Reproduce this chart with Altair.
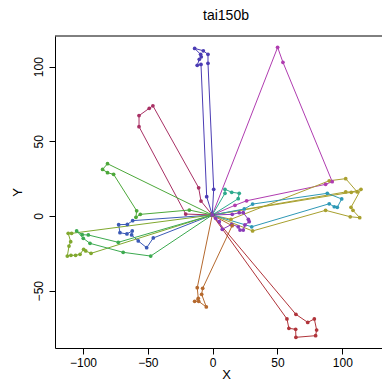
import altair as alt
import pandas as pd

depot_x, depot_y = -0.3, 0.7

route_names = ["r01", "r02", "r03", "r04", "r05", "r06", "r07", "r08", "r09", "r10", "r11", "r12", "r13", "r14"]
route_colors = ["#4B3CB4", "#B03CB0", "#A83064", "#4CA83A", "#3B5AB6", "#80A82E", "#3CAA50",
                "#B5692E", "#B0343A", "#AAA030", "#A8A02E", "#2E98B6", "#2EAA8E", "#8A3AB8"]

r01_x = [0.8, -3.6, -3.6, -7.2, -13.9, -9.3, -8.8, -10.3, -11.9, -9.0, -4.6]
r01_y = [17.9, 102.2, 108.2, 110.6, 112.2, 108.2, 106.6, 104.9, 100.9, 101.5, 12.9]
r02_x = [50.1, 54.2, 92.2, 87.1, 26.2, 17.2]
r02_y = [112.9, 102.9, 23.0, 21.2, 10.2, 7.2]
r03_x = [-20.8, -56.8, -56.8, -48.9, -46.1, -10.8, -9.0]
r03_y = [1.3, 59.8, 67.2, 72.1, 73.8, 18.9, 10.0]
r04_x = [-81.1, -84.9, -81.1, -76.4, -58.6, -59.2, -55.8, -18.0]
r04_y = [35.0, 31.2, 29.0, 27.9, 3.5, -0.9, 1.1, 4.0]
r05_x = [-61.7, -65.8, -72.5, -71.5, -66.1, -62.0, -62.5, -57.4, -50.9, -45.8]
r05_y = [-3.1, -5.6, -5.8, -11.2, -12.0, -10.0, -12.7, -16.7, -21.2, -14.7]
r06_x = [-108.8, -111.4, -109.5, -110.8, -112.1, -109.3, -105.7, -102.3, -99.5, -97.9, -93.8]
r06_y = [-11.6, -11.6, -17.2, -20.1, -26.8, -26.3, -26.3, -25.6, -22.3, -23.4, -25.0]
r07_x = [-72.8, -95.9, -100.6, -104.9, -99.8, -94.6, -69.0, -47.8]
r07_y = [-17.6, -12.7, -12.5, -10.0, -14.9, -18.3, -24.3, -26.8]
r08_x = [-11.9, -11.1, -13.9, -10.8, -4.9, -8.5, -7.7, 15.0]
r08_y = [-48.0, -55.1, -57.1, -57.1, -60.9, -52.4, -48.4, -6.5]
r09_x = [57.3, 58.8, 64.0, 64.2, 79.4, 80.2, 78.4, 73.3, 64.2]
r09_y = [-68.9, -75.2, -75.8, -81.2, -80.1, -76.3, -68.9, -71.2, -65.8]
r10_x = [14.1, 89.9, 102.6, 111.5, 102.6]
r10_y = [-2.2, 23.6, 25.0, 16.1, 16.1]
r11_x = [106.9, 114.4, 106.7, 108.2, 113.4, 106.1, 87.1, 30.8]
r11_y = [15.9, 17.9, 5.8, 3.8, -1.1, -0.5, 3.8, -10.0]
r12_x = [24.4, 30.8, 88.4, 99.5, 96.1, 93.8, 89.9, 30.1]
r12_y = [4.7, 8.0, 15.2, 11.4, 5.8, 6.2, 8.2, -7.2]
r13_x = [9.5, 9.5, 14.7, 20.5, 19.7]
r13_y = [15.2, 17.9, 15.9, 15.2, 11.6]
r14_x = [2.3, 5.1, 7.4, 14.7, 19.7, 21.1, 23.6, 24.9, 28.2, 27.5, 23.6, 20.5, 15.1]
r14_y = [-1.5, -3.8, -8.9, -5.6, -7.2, -9.4, -9.4, -6.0, -3.8, -2.2, 2.2, 2.2, 1.1]

route_xs = [r01_x, r02_x, r03_x, r04_x, r05_x, r06_x, r07_x, r08_x, r09_x, r10_x, r11_x, r12_x, r13_x, r14_x]
route_ys = [r01_y, r02_y, r03_y, r04_y, r05_y, r06_y, r07_y, r08_y, r09_y, r10_y, r11_y, r12_y, r13_y, r14_y]

x_ticks = [-100, -50, 0, 50, 100]
y_ticks = [-50, 0, 50, 100]

rows = []
for name, xs, ys in zip(route_names, route_xs, route_ys):
    px = [depot_x] + xs + [depot_x]
    py = [depot_y] + ys + [depot_y]
    for i, (a, b) in enumerate(zip(px, py)):
        rows.append({"route": name, "i": i, "x": a, "y": b})
df = pd.DataFrame(rows)

W, H = 327, 312
FONT = "Liberation Sans"

xaxis = alt.Axis(values=x_ticks, grid=False, tickSize=6, tickColor="black", domainColor="black",
                 labelFont=FONT, labelFontSize=12, labelColor="black", labelPadding=3,
                 title="X", titleFont=FONT, titleFontSize=13, titleFontWeight="normal",
                 titleColor="black", titlePadding=0, titleX=171)
yaxis = alt.Axis(values=y_ticks, grid=False, tickSize=6, tickColor="black", domainColor="black",
                 labelFont=FONT, labelFontSize=12, labelColor="black", labelPadding=4,
                 labelAngle=270, labelAlign="center", labelBaseline="bottom",
                 title="Y", titleFont=FONT, titleFontSize=13, titleFontWeight="normal",
                 titleColor="black", titlePadding=8)

base = alt.Chart(df).encode(
    x=alt.X("x:Q", scale=alt.Scale(domain=[-121.6, 130.6], nice=False, zero=False), axis=xaxis),
    y=alt.Y("y:Q", scale=alt.Scale(domain=[-88.35, 120.5], nice=False, zero=False), axis=yaxis),
    color=alt.Color("route:N", scale=alt.Scale(domain=route_names, range=route_colors), legend=None),
    detail="route:N",
    order=alt.Order("i:Q"),
)

lines = base.mark_line(strokeWidth=1, clip=True)
points = base.mark_circle(size=14, opacity=1, clip=True)

one = pd.DataFrame({"t": ["tai150b"]})
top = alt.Chart(one).mark_rule(color="black", strokeWidth=1).encode(
    x=alt.value(0), x2=alt.value(W), y=alt.value(0))
title = alt.Chart(one).mark_text(font=FONT, fontSize=14, color="black", baseline="middle").encode(
    text="t:N", x=alt.value(171), y=alt.value(-20.5))

chart = alt.layer(lines, points, top, title).properties(
    width=W, height=H,
    autosize=alt.AutoSizeParams(type="none"),
    padding={"left": 47, "top": 28, "right": 0, "bottom": 35},
).configure_view(strokeWidth=0)

chart.save("out.html", embed_options={"renderer": "svg", "actions": False})
